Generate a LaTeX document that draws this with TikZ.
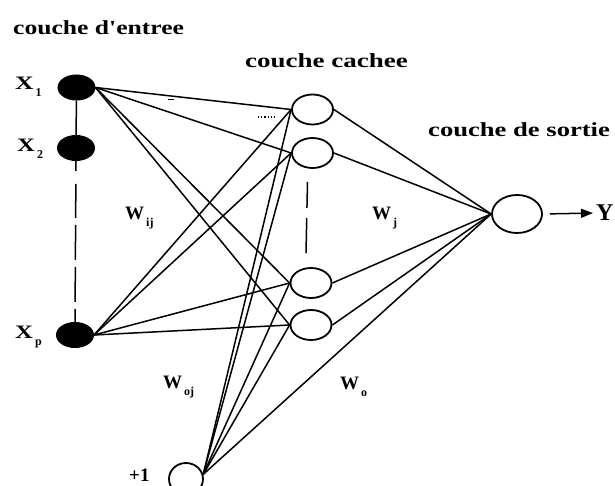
\documentclass[tikz,border=0pt]{standalone}
\usepackage{fontspec}
\setmainfont{Liberation Serif}
\usetikzlibrary{shapes.geometric,arrows.meta,calc}
\newcommand{\lsub}[1]{\kern2pt\raisebox{-7pt}{\fontsize{12}{12}\selectfont #1}}
\newcommand{\wide}[2][1.32]{\scalebox{#1}[1]{#2}}
\begin{document}
\begin{tikzpicture}[x=1pt,y=-1pt,
  inp/.style={ellipse,draw,fill=black,line width=1pt,minimum width=37pt,minimum height=25pt,inner sep=0pt},
  hid/.style={ellipse,draw,line width=1.8pt,minimum width=41pt,minimum height=30pt,inner sep=0pt},
  conn/.style={line width=1.5pt},
  lbl/.style={font=\bfseries\fontsize{20}{20}\selectfont,inner sep=0pt,anchor=base west},
  var/.style={font=\bfseries\fontsize{19}{19}\selectfont,inner sep=0pt,anchor=base west}]
\useasboundingbox (0,0) rectangle (615,486);
\clip (0,0) rectangle (615,486);
% labels
\node[lbl] (Lin) at (13,35) {\wide[1.28]{couche d\textquotesingle entree}};
\node[lbl] (Lhid) at (245,68) {\wide[1.35]{couche cachee}};
\node[lbl] (Lout) at (428,137) {\wide[1.33]{couche de sortie}};
% input nodes
\node[inp] (x1) at (76.5,87.5) {};
\node[inp] (x2) at (76,148) {};
\node[inp] (xp) at (75,335) {};
\node[var] (tx1) at (15,90) {\wide[1.35]{X}\lsub{1}};
\node[var] (tx2) at (17,152) {\wide[1.3]{X}\lsub{2}};
\node[var] (txp) at (15,338) {\wide[1.3]{X}\lsub{p}};
% hidden nodes
\node[hid] (h1) at (312.5,109.5) {};
\node[hid] (h2) at (312.5,153) {};
\node[hid] (h3) at (311,283) {};
\node[hid] (h4) at (311,325) {};
% output
\node[hid,minimum width=50pt,minimum height=38pt] (out) at (517,214) {};
\node[font=\bfseries\fontsize{24}{24}\selectfont,inner sep=0pt,anchor=west] (Y) at (596,213) {Y};
% bias
\node[hid,minimum width=34pt,minimum height=32pt] (bias) at (186,479) {};
\node[var] (tb) at (129,481) {+1};
% weight labels
\node[var] (wij) at (125,220) {W\lsub{ij}};
\node[var] (wj) at (372,219) {W\lsub{j}};
\node[var] (woj) at (163,388) {W\lsub{oj}};
\node[var] (wo) at (340,389) {W\lsub{o}};
% vertical links
\draw[conn] (x1) -- (x2);
\draw[conn,dash pattern=on 10pt off 13pt on 34pt off 7pt on 35pt off 7pt on 35pt off 7pt on 35pt off 7pt] (x2.south) -- (xp.north);
\draw[conn,dash pattern=on 26pt off 10pt on 40pt off 10pt] ($(h2.south)+(-5,13)$) -- ($(h3.north)+(-5,-14)$);
% input -> hidden, bias -> hidden, hidden -> output
\foreach \h in {h1,h2,h3,h4}{
  \draw[conn] (x1.east) -- (\h.west);
  \draw[conn] (xp.east) -- (\h.west);
  \draw[conn] (bias.15) -- (\h.west);
  \draw[conn] (\h.east) -- (out.west);
}
\draw[conn] (bias.15) -- (out.west);
% small marks
\draw[line width=1pt] (168,100) -- (174,100);
\draw[line width=1.2pt,dotted] (258,117) -- (277,117);
% output arrow
\draw[conn,shorten <=7pt,shorten >=3pt,-{Triangle[length=12pt,width=9pt]}] (out.east) -- (Y.west);
\end{tikzpicture}
\end{document}
